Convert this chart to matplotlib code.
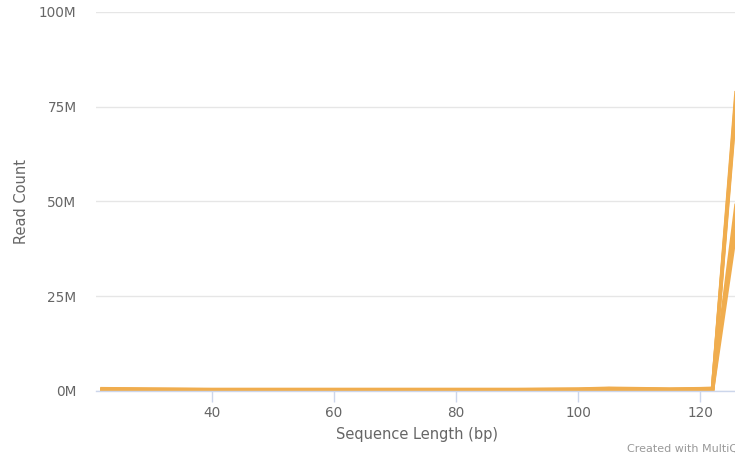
import numpy as np
import matplotlib.pyplot as plt
from matplotlib.ticker import FuncFormatter

# sequence lengths (bp) and read counts (millions) per sample
lengths = [22, 30, 40, 50, 60, 70, 80, 90, 100, 105, 110, 115, 120, 122, 126]
sample_a = [0.6, 0.5, 0.4, 0.4, 0.4, 0.4, 0.4, 0.4, 0.5, 0.7, 0.6, 0.5, 0.6, 0.7, 82.0]
sample_b = [0.5, 0.4, 0.3, 0.3, 0.3, 0.3, 0.3, 0.3, 0.4, 0.6, 0.5, 0.4, 0.5, 0.6, 80.5]
sample_c = [0.4, 0.3, 0.3, 0.3, 0.3, 0.3, 0.3, 0.3, 0.3, 0.5, 0.4, 0.3, 0.4, 0.5, 79.0]
sample_d = [0.3, 0.2, 0.2, 0.2, 0.2, 0.2, 0.2, 0.2, 0.3, 0.4, 0.3, 0.3, 0.3, 0.4, 51.0]
sample_e = [0.3, 0.2, 0.2, 0.2, 0.2, 0.2, 0.2, 0.2, 0.2, 0.3, 0.3, 0.2, 0.3, 0.3, 44.5]

yticks = [0, 25, 50, 75, 100]
xticks = [40, 60, 80, 100, 120]

text_col = '#666666'
line_col = '#f0ad4e'

fig = plt.figure(figsize=(7.35, 4.57), dpi=100)
ax = fig.add_axes([96 / 735, 1 - 391 / 457, (737 - 96) / 735, (391 - 12) / 457])

for s in [sample_e, sample_d, sample_c, sample_b, sample_a]:
    ax.plot(lengths, s, color=line_col, linewidth=2.6, solid_joinstyle='miter')

ax.set_xlim(21, 126)
ax.set_ylim(0, 100)
ax.set_yticks(yticks)
ax.set_xticks(xticks)
ax.yaxis.set_major_formatter(FuncFormatter(lambda v, p: f'{int(v)}M'))

ax.grid(axis='y', color='#e6e6e6', linewidth=1)
ax.set_axisbelow(True)
for sp in ['top', 'right', 'left']:
    ax.spines[sp].set_visible(False)
ax.spines['bottom'].set_color('#ccd6eb')
ax.spines['bottom'].set_linewidth(1)

ax.tick_params(axis='y', length=0, pad=14, labelsize=9.8, labelcolor=text_col)
ax.tick_params(axis='x', length=8, width=1, color='#ccd6eb', pad=3,
               labelsize=9.8, labelcolor=text_col)

ax.set_xlabel('Sequence Length (bp)', fontsize=10.5, color=text_col, labelpad=5)
ax.set_ylabel('Read Count', fontsize=10.5, color=text_col)
ax.yaxis.set_label_coords(-(96 - 29) / 641, 0.5)

# footer is cut by the page edge in the original too
fig.text(627 / 735, 1 - 444 / 457, 'Created with MultiQC', fontsize=8,
         color='#999999', ha='left', va='top')

fig.savefig('out.png', dpi=100)
